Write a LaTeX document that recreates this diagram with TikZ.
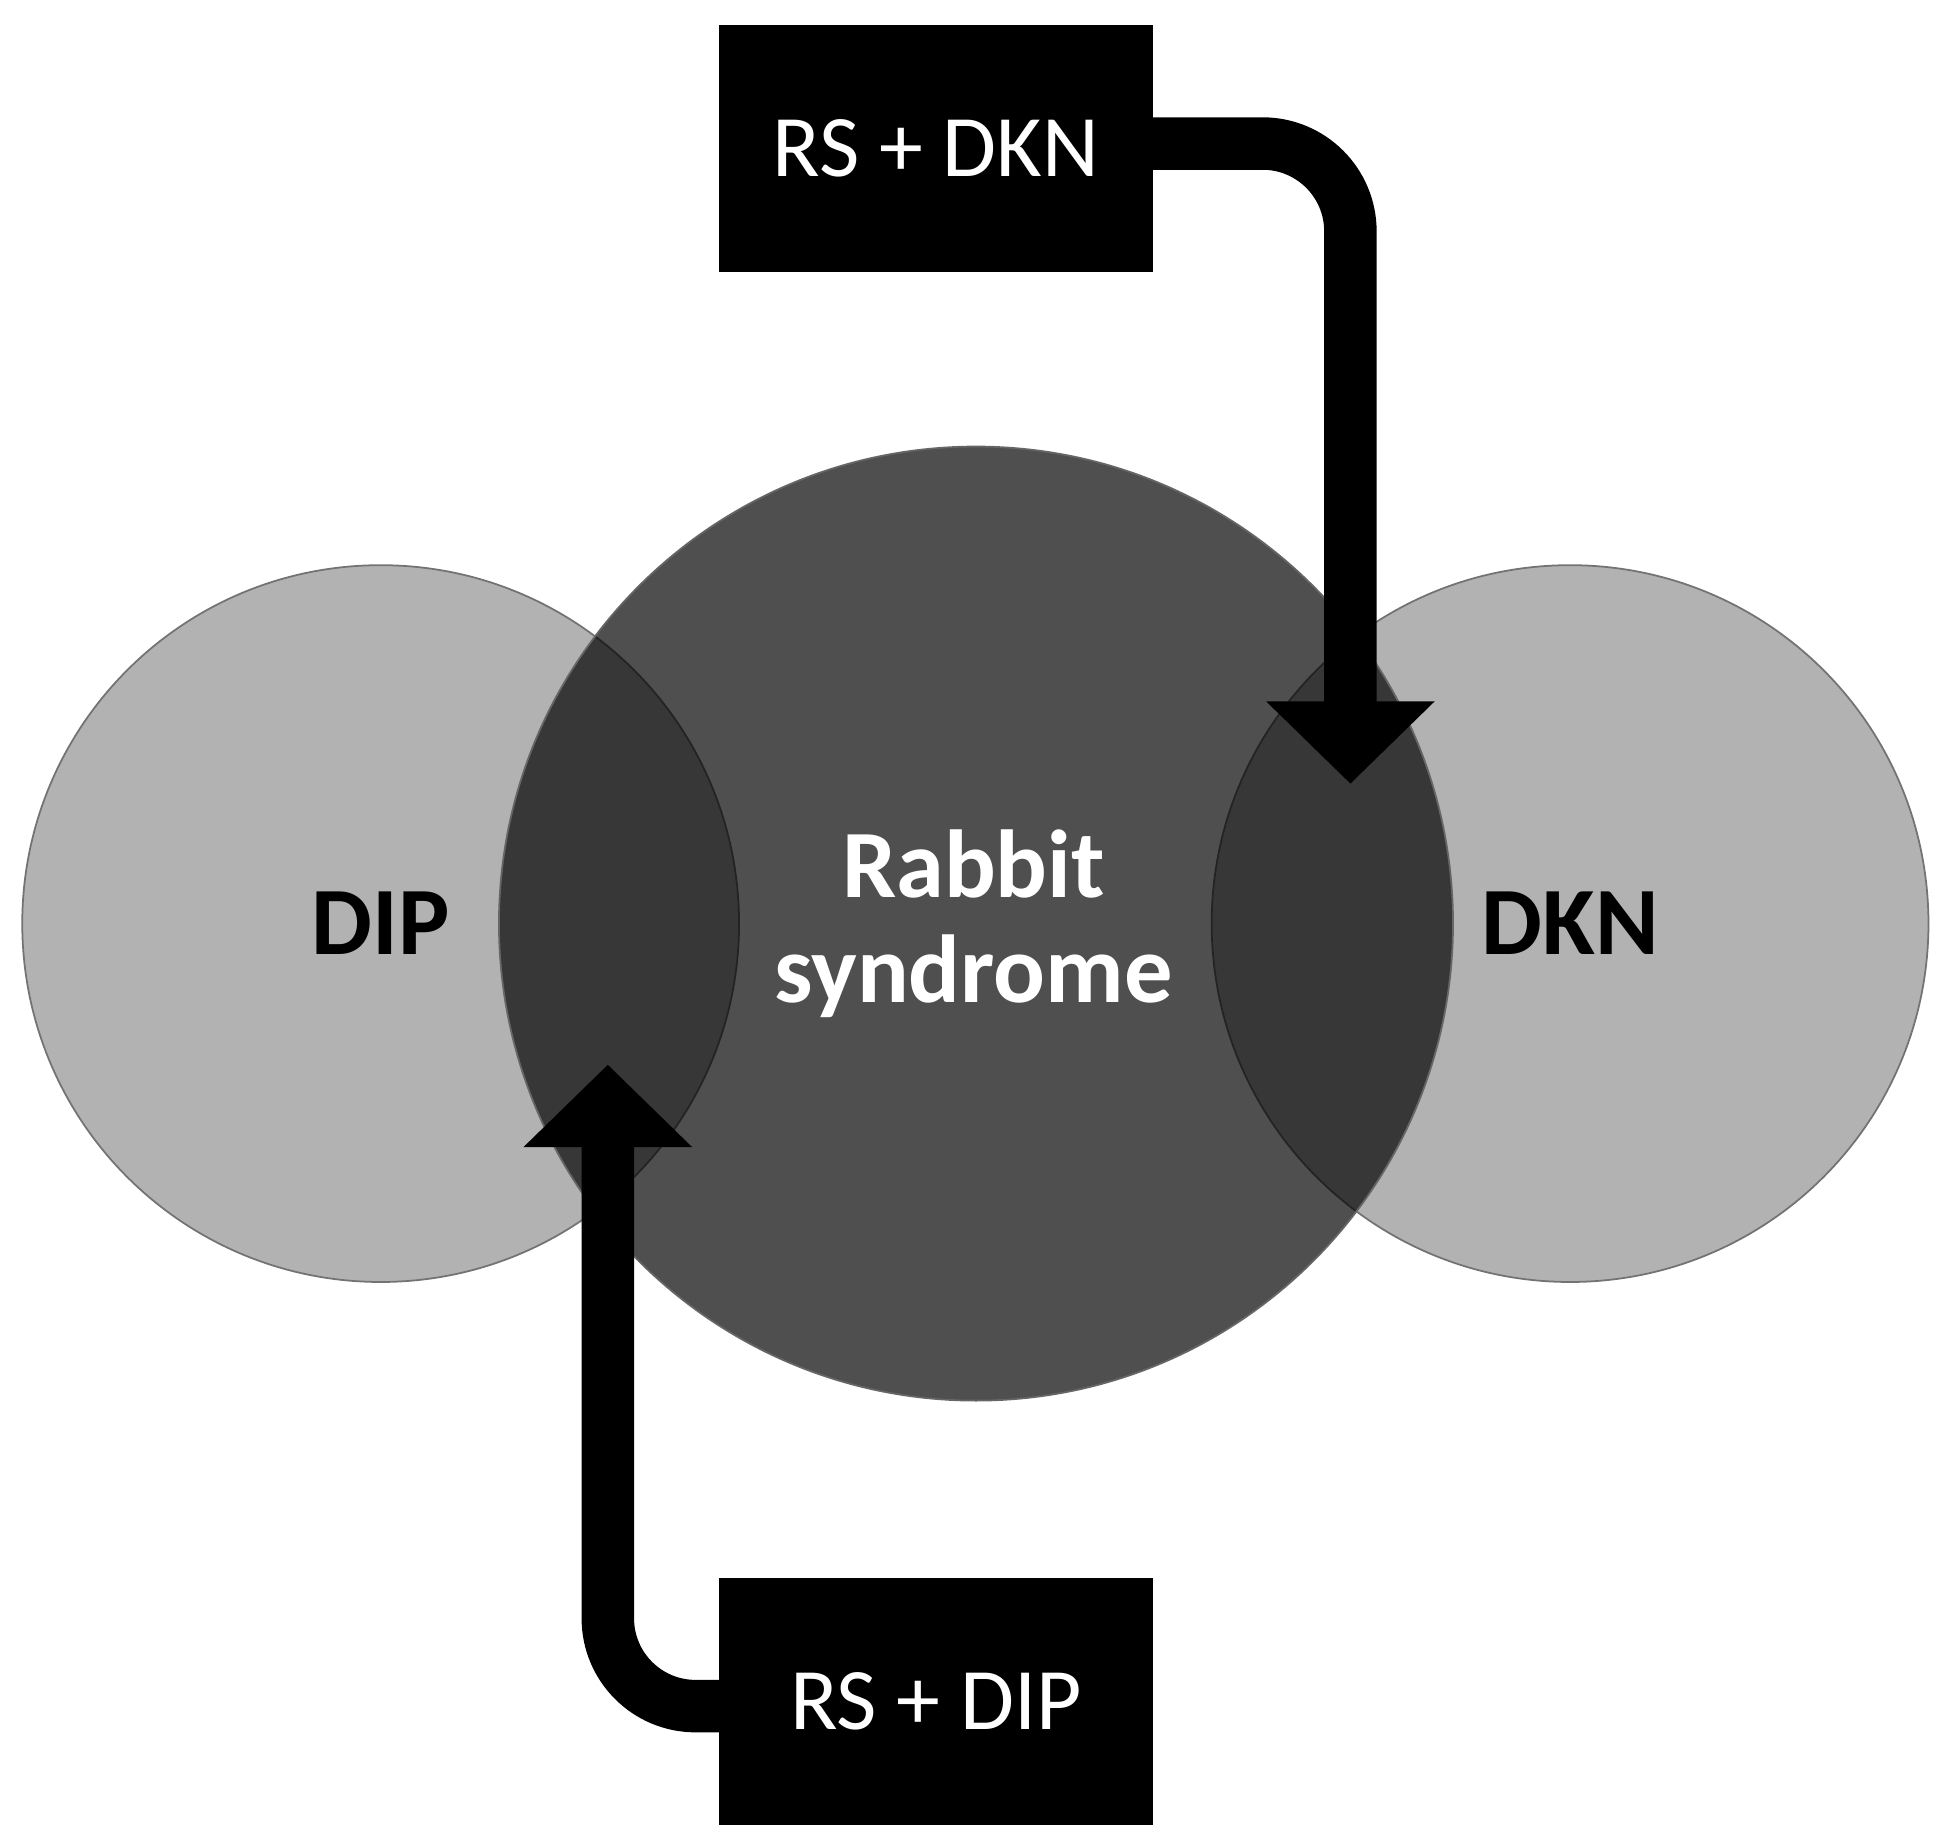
\documentclass[tikz,border=0pt]{standalone}
\usepackage{fontspec}
\setmainfont{Carlito}
\usetikzlibrary{arrows.meta}
\begin{document}
\begin{tikzpicture}[x=0.01cm,y=-0.01cm,
  side/.style={circle,fill=black!30,draw=black!55,line width=0.4pt,minimum size=5.74cm,inner sep=0pt},
  mid/.style={circle,fill=black,fill opacity=0.69,draw=black!60,draw opacity=1,minimum size=7.64cm,inner sep=0pt},
  box/.style={fill=black,minimum width=3.48cm,minimum height=1.98cm,inner sep=0pt,text=white,font=\fontsize{20}{24}\selectfont},
  lab/.style={font=\bfseries\fontsize{22}{26}\selectfont},
  flow/.style={line width=11.95pt,rounded corners=20pt,-{Triangle[width=37.3pt,length=18.8pt]}}]
\useasboundingbox[fill=white] (0,0) rectangle (1556,1472);
\node[side] (dip) at (305,740) {};
\node[side] (dkn) at (1258,740) {};
\node[mid] (rs) at (782,740) {};
\node[lab] (diptxt) at (305,740) {DIP};
\node[lab] (dkntxt) at (1258,740) {DKN};
\node[lab,text=white,align=center] (rstxt) at (780,740) {Rabbit\\[-2pt]syndrome};
\node[box] (tb) at (750,119) {RS + DKN};
\node[box] (bb) at (750,1363) {RS + DIP};
\coordinate (t1) at (924,115);
\coordinate (ttip) at (1082,628);
\coordinate (b1) at (576,1367);
\coordinate (btip) at (487,853);
\draw[flow] (t1) -| (ttip);
\draw[flow] (b1) -| (btip);
\end{tikzpicture}
\end{document}
